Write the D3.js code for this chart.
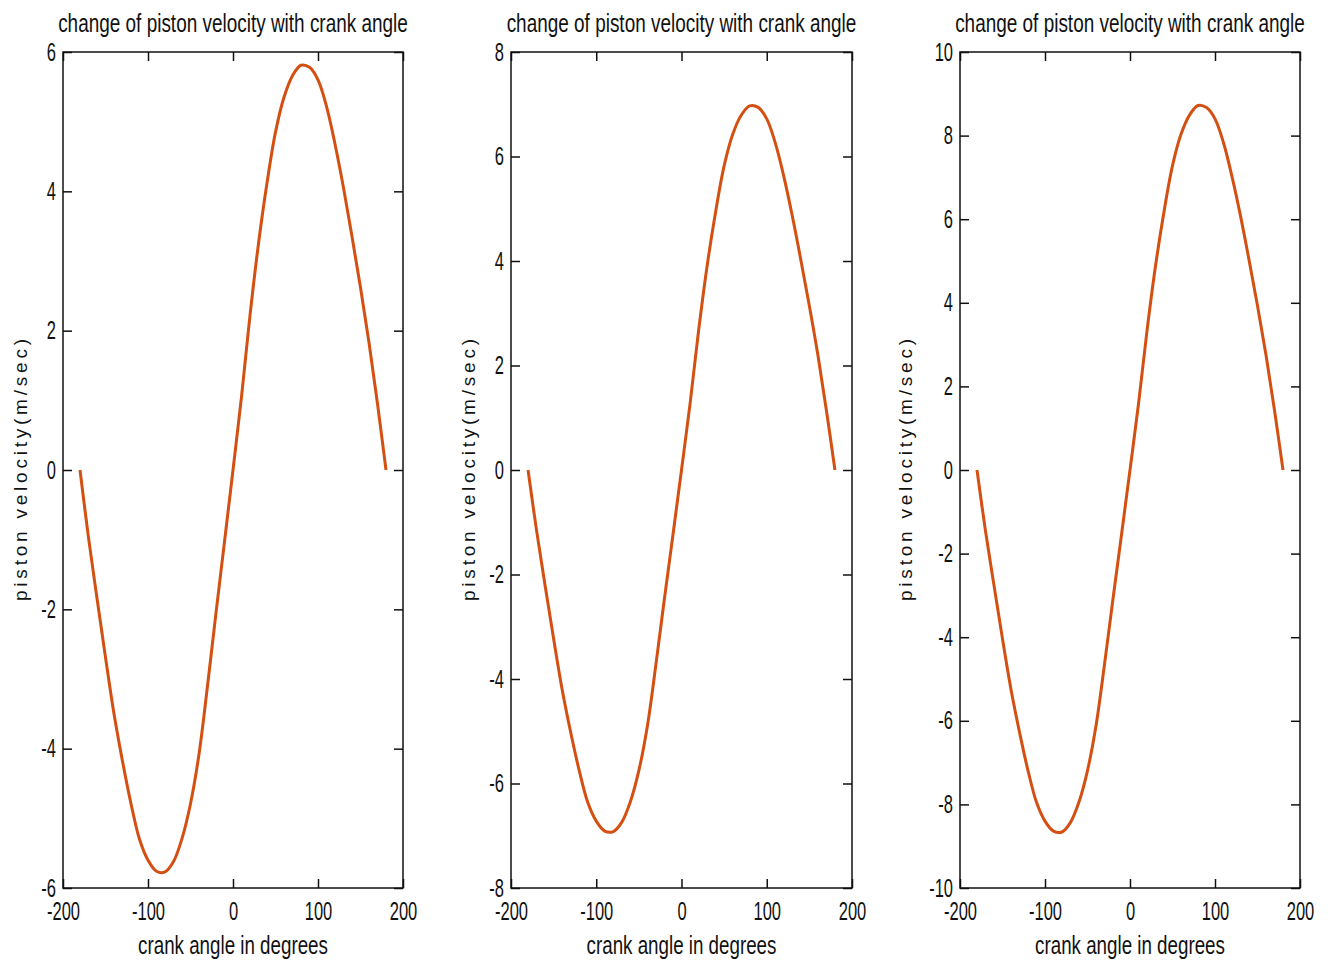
<!DOCTYPE html>
<html>
<head>
<meta charset="utf-8">
<script src="https://cdn.jsdelivr.net/npm/d3@7"></script>
<style>
body { margin: 0; background: #fff; }
svg { display: block; }
</style>
</head>
<body>
<div id="chart"></div>
<script>
// crank angle (deg) and velocity
var angles = [-180,-170,-160,-150,-140,-130,-120,-110,-100,-90,-80,-70,-60,-50,-40,-30,-20,-10,
	0,10,20,30,40,50,60,70,80,90,100,110,120,130,140,150,160,170,180];

var velocity1 = [0,-0.97,-1.84,-2.69,-3.50,-4.18,-4.79,-5.30,-5.60,-5.76,-5.77,-5.62,-5.29,-4.79,-4.08,-3.10,-2.05,-1.03,
	0,1.05,2.22,3.25,4.12,4.85,5.35,5.66,5.81,5.78,5.60,5.22,4.68,4.05,3.35,2.62,1.83,0.95,0];

var velocity2 = [0,-1.16,-2.21,-3.23,-4.20,-5.02,-5.75,-6.36,-6.72,-6.91,-6.92,-6.74,-6.35,-5.75,-4.90,-3.72,-2.46,-1.24,
	0,1.26,2.66,3.90,4.94,5.82,6.42,6.79,6.97,6.94,6.72,6.26,5.62,4.86,4.02,3.14,2.20,1.14,0];

var velocity3 = [0,-1.46,-2.76,-4.04,-5.25,-6.27,-7.19,-7.95,-8.40,-8.64,-8.66,-8.43,-7.94,-7.19,-6.12,-4.65,-3.08,-1.55,
	0,1.58,3.33,4.88,6.18,7.28,8.03,8.49,8.72,8.67,8.40,7.83,7.02,6.08,5.03,3.93,2.75,1.43,0];

var xTicks = [-200,-100,0,100,200];
var yTicks1 = [-6,-4,-2,0,2,4,6];
var yTicks2 = [-8,-6,-4,-2,0,2,4,6,8];
var yTicks3 = [-10,-8,-6,-4,-2,0,2,4,6,8,10];

var titleText = "change of piston velocity with crank angle";
var xLabelText = "crank angle in degrees";
var yLabelText = "piston velocity(m/sec)";

var W = 1333, H = 960;
var top_ = 52, plotH = 836;
var lineColor = "#d35012";
var inkColor = "#111";
var narrow = 0.66;

var svg = d3.select("#chart").append("svg")
		.attr("width", W)
		.attr("height", H)
		.style("font-family", "'Liberation Sans', Arial, sans-serif");

var panels = [
	{left: 63,  width: 340, values: velocity1, ticks: yTicks1, ylabOff: 43},
	{left: 511, width: 341, values: velocity2, ticks: yTicks2, ylabOff: 43},
	{left: 960, width: 340, values: velocity3, ticks: yTicks3, ylabOff: 55}
];

// plain hyphen minus like the original, not d3's unicode minus
function plain(d) { return String(d); }

// squeeze axis tick text horizontally, keeping its anchor point
function squeeze(sel) {
	sel.each(function() {
		var t = d3.select(this);
		var x = +t.attr("x") || 0;
		t.attr("x", x / narrow).attr("transform", "scale(" + narrow + ",1)");
	});
}

// fit a text to a given width by horizontal scaling
function fitText(g, str, cx, y, size, target) {
	var t = g.append("text")
			.attr("text-anchor", "middle")
			.style("font-size", size + "px")
			.attr("fill", inkColor)
			.text(str);
	var len = t.node().getComputedTextLength();
	var s = target / len;
	t.attr("transform", "translate(" + cx + "," + y + ") scale(" + s + ",1)");
	return t;
}

panels.forEach(function(p) {
	var ext = d3.extent(p.ticks);
	var x = d3.scaleLinear().domain([-200, 200]).range([0, p.width]);
	var y = d3.scaleLinear().domain(ext).range([plotH, 0]);

	var g = svg.append("g").attr("transform", "translate(" + p.left + "," + top_ + ")");

	// curve
	var line = d3.line()
			.x(function(d, i) {return x(angles[i]);})
			.y(function(d) {return y(d);})
			.curve(d3.curveCatmullRom);

	g.append("path")
			.datum(p.values)
			.attr("d", line)
			.attr("fill", "none")
			.attr("stroke", lineColor)
			.attr("stroke-width", 3)
			.attr("stroke-linejoin", "round");

	// axes, ticks pointing inward on all four sides
	var bottom = g.append("g").attr("transform", "translate(0," + plotH + ")")
			.call(d3.axisBottom(x).tickValues(xTicks).tickSize(-9).tickPadding(14).tickFormat(plain));
	var left = g.append("g")
			.call(d3.axisLeft(y).tickValues(p.ticks).tickSize(-9).tickPadding(7).tickFormat(plain));
	g.append("g")
			.call(d3.axisTop(x).tickValues(xTicks).tickSize(-9).tickFormat(""));
	g.append("g").attr("transform", "translate(" + p.width + ",0)")
			.call(d3.axisRight(y).tickValues(p.ticks).tickSize(-9).tickFormat(""));

	g.selectAll(".domain").remove();
	g.selectAll(".tick line").attr("stroke", inkColor).attr("stroke-width", 1.5);
	g.selectAll(".tick text")
			.attr("fill", inkColor)
			.style("font-size", "25px")
			.style("font-family", "'Liberation Sans', Arial, sans-serif");
	bottom.selectAll(".tick text").attr("dy", "0.71em").attr("y", 14);
	squeeze(left.selectAll(".tick text"));
	squeeze(bottom.selectAll(".tick text"));

	g.append("rect")
			.attr("x", 0)
			.attr("y", 0)
			.attr("width", p.width)
			.attr("height", plotH)
			.attr("fill", "none")
			.attr("stroke", inkColor)
			.attr("stroke-width", 1.5);

	// title and labels
	fitText(g, titleText, p.width / 2, -20, 25, 350);
	fitText(g, xLabelText, p.width / 2, plotH + 66, 25, 190);

	g.append("text")
			.attr("transform", "translate(" + (-p.ylabOff + 7) + "," + (plotH / 2) + ") rotate(-90)")
			.attr("text-anchor", "middle")
			.attr("textLength", 262)
			.attr("lengthAdjust", "spacing")
			.style("font-size", "19px")
			.attr("fill", inkColor)
			.text(yLabelText);
});
</script>
</body>
</html>
